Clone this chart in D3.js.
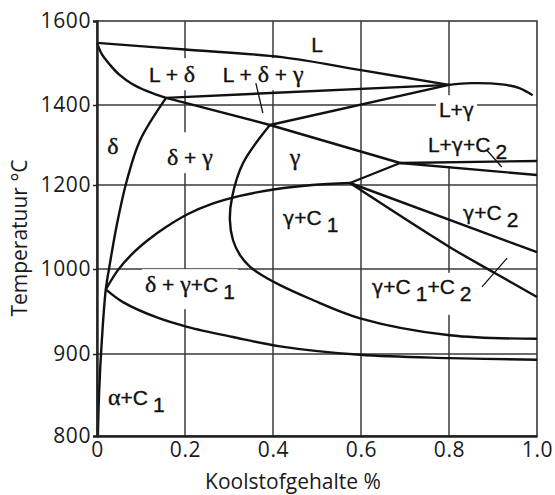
<!DOCTYPE html>
<html>
<head>
<meta charset="utf-8">
<script src="https://cdn.jsdelivr.net/npm/d3@7"></script>
<style>
body { margin: 0; background: #fff; }
</style>
</head>
<body>
<svg id="chart" width="555" height="495"></svg>
<script>
// axis ticks
const xTicks = [0, 0.2, 0.4, 0.6, 0.8, 1.0];
const yTicks = [800, 900, 1000, 1200, 1400, 1600];
const xGrid = [0.2, 0.4, 0.6, 0.8];
const yGrid = [900, 1000, 1200, 1400];

// phase boundaries, [carbon %, temperature °C]
const liquidus = [[0, 1548], [0.2, 1532], [0.42, 1514], [0.6, 1483], [0.8, 1448]];
const deltaSolidus = [[0, 1548], [0.011, 1521], [0.03, 1495], [0.052, 1471], [0.08, 1450], [0.114, 1433], [0.157, 1417]];
const peritectic = [[0.157, 1417], [0.8, 1448]];
const deltaGammaTop = [[0.157, 1417], [0.393, 1350]];
const deltaBoundary = [[0.157, 1417], [0.098, 1312], [0.068, 1212], [0.045, 1105], [0.03, 1017],
  [0.02, 976], [0.011, 916], [0.005, 856], [0.002, 800]];
const gammaC1Top = [[0.02, 976], [0.048, 999], [0.08, 1036], [0.116, 1069], [0.157, 1100], [0.207, 1131],
  [0.261, 1155], [0.325, 1174], [0.405, 1190], [0.489, 1200], [0.575, 1205]];
const lowerBoundary = [[0.02, 976], [0.059, 961], [0.136, 943], [0.205, 932], [0.309, 920],
  [0.416, 909], [0.598, 899], [0.802, 895], [1.0, 893]];
const gammaBoundary = [[0.393, 1350], [0.332, 1255], [0.307, 1171], [0.302, 1117], [0.309, 1069],
  [0.325, 1033], [0.348, 1005], [0.377, 992], [0.416, 981], [0.484, 965], [0.598, 942],
  [0.802, 922], [1.0, 918]];
const gammaLiquid = [[0.393, 1350], [0.8, 1448]];
const gammaL = [[0.393, 1350], [0.689, 1255]];
const qUpper = [[0.689, 1255], [1.0, 1260]];
const qLower = [[0.689, 1255], [1.0, 1225]];
const eToQ = [[0.575, 1205], [0.689, 1255]];
const eUpper = [[0.575, 1205], [1.0, 1040]];
const eLower = [[0.575, 1205], [0.802, 1052], [0.905, 995], [1.0, 967]];
const liquidusRight = [[0.8, 1448], [0.85, 1452], [0.92, 1449], [0.96, 1440], [0.99, 1423]];

// leader lines
const leaderLDG = [[0.361, 1452], [0.377, 1380]];
const leaderLGC = [[0.886, 1287], [0.92, 1245]];
const leaderGCC = [[0.875, 979], [0.932, 1026]];

// phase labels: text ("_" marks a subscript), carbon %, temperature
const labelText = ["L", "L + δ", "L + δ + γ", "δ", "δ + γ", "γ", "L+γ", "L+γ+C_2", "γ+C_1", "γ+C_2", "δ + γ+C_1", "γ+C_1+C_2", "α+C_1"];
const labelX = [0.5, 0.118, 0.286, 0.036, 0.159, 0.45, 0.777, 0.752, 0.423, 0.832, 0.109, 0.625, 0.025];
const labelT = [1543, 1471, 1471, 1295, 1267, 1267, 1387, 1300, 1121, 1133, 981, 979, 846];
const labelAnchor = ["middle", "start", "start", "middle", "start", "middle", "start", "start", "start", "start", "start", "start", "start"];
const serifGreek = [false, true, true, true, true, true, false, false, false, false, true, false, true];
const labelPad = [[2, 2], [3, 3], [3, 3], [2, 2], [12, 3], [2, 2], [3, 9], [9, 3], [2, 2], [2, 2], [2, 6], [2, 10], [2, 2]];

const svg = d3.select("#chart");

const x = d3.scaleLinear().domain([0, 1]).range([97, 537]);
// temperature axis is stretched below 1000 °C
const y = d3.scaleLinear()
    .domain([800, 900, 1000, 1200, 1400, 1600])
    .range([436, 354, 269, 185, 105, 21]);

const gGrid = svg.append("g");
const gBg = svg.append("g");
const gCurves = svg.append("g");
const gLabels = svg.append("g");

// grid
gGrid.selectAll(".vg")
    .data(xGrid)
    .join("line")
    .attr("x1", d => x(d)).attr("x2", d => x(d))
    .attr("y1", y(800)).attr("y2", y(1600))
    .attr("stroke", "#3a3a3a").attr("stroke-width", 1.5);

gGrid.selectAll(".hg")
    .data(yGrid)
    .join("line")
    .attr("y1", d => y(d)).attr("y2", d => y(d))
    .attr("x1", x(0)).attr("x2", x(1))
    .attr("stroke", "#3a3a3a").attr("stroke-width", 1.5);

// frame
gGrid.append("rect")
    .attr("x", x(0)).attr("y", y(1600))
    .attr("width", x(1) - x(0)).attr("height", y(800) - y(1600))
    .attr("fill", "none").attr("stroke", "#3a3a3a").attr("stroke-width", 1.6);

// axes
const yAxis = svg.append("g")
    .attr("transform", `translate(${x(0)},0)`)
    .call(d3.axisLeft(y).tickValues(yTicks).tickSize(4).tickFormat(d3.format("d")));

const xAxis = svg.append("g")
    .attr("transform", `translate(0,${y(800)})`)
    .call(d3.axisBottom(x).tickValues(xTicks).tickSize(0)
        .tickFormat(d => d === 0 ? "0" : d3.format(".1f")(d)));

[yAxis, xAxis].forEach(a => {
    a.select(".domain").attr("stroke", "#222").attr("stroke-width", 2.4);
    a.selectAll(".tick line").attr("stroke", "#222").attr("stroke-width", 1.5);
    a.selectAll(".tick text")
        .attr("fill", "#1a1a1a")
        .style("font-family", "'Open Sans', sans-serif")
        .style("font-size", "21px")
        .style("letter-spacing", "0.6px");
});
yAxis.selectAll(".tick text").attr("x", -6);
xAxis.selectAll(".tick text").attr("y", 6).attr("dy", "0.71em");

svg.append("text")
    .attr("x", 293).attr("y", 489)
    .attr("text-anchor", "middle")
    .attr("fill", "#1a1a1a")
    .style("font-family", "'Open Sans', sans-serif")
    .style("font-size", "21px")
    .text("Koolstofgehalte %");

svg.append("text")
    .attr("transform", "translate(27,238) rotate(-90)")
    .attr("text-anchor", "middle")
    .attr("fill", "#1a1a1a")
    .style("font-family", "'Open Sans', sans-serif")
    .style("font-size", "21px")
    .text("Temperatuur °C");

// phase boundaries
const smooth = d3.line().x(d => x(d[0])).y(d => y(d[1])).curve(d3.curveCatmullRom.alpha(0.5));
const straight = d3.line().x(d => x(d[0])).y(d => y(d[1]));

const curved = [liquidus, deltaSolidus, deltaBoundary, gammaC1Top, lowerBoundary, gammaBoundary, eLower, liquidusRight];
const lines = [peritectic, deltaGammaTop, gammaLiquid, gammaL, qUpper, qLower, eToQ, eUpper];
const leaders = [leaderLDG, leaderLGC, leaderGCC];

gCurves.selectAll(".c")
    .data(curved)
    .join("path")
    .attr("d", smooth)
    .attr("fill", "none").attr("stroke", "#111").attr("stroke-width", 2.4);

gCurves.selectAll(".l")
    .data(lines)
    .join("path")
    .attr("d", straight)
    .attr("fill", "none").attr("stroke", "#111").attr("stroke-width", 2.4);

gCurves.selectAll(".ld")
    .data(leaders)
    .join("path")
    .attr("d", straight)
    .attr("fill", "none").attr("stroke", "#111").attr("stroke-width", 1.3);

// phase labels
function addRun(txt, s, serif, dy) {
    // greek letters get their own face
    s.split(/([αγδ])/).filter(p => p.length).forEach((p, k) => {
        const ts = txt.append("tspan").text(p);
        if (k === 0 && dy) ts.attr("dy", dy);
        if (/[αγδ]/.test(p)) {
            if (serif) ts.style("font-family", "'Liberation Serif', serif").style("font-size", "24px");
            else ts.style("font-family", "'DejaVu Sans', sans-serif").style("font-size", "19px");
        }
    });
}

labelText.forEach((t, i) => {
    const txt = gLabels.append("text")
        .attr("x", x(labelX[i]))
        .attr("y", y(labelT[i]) + 7)
        .attr("text-anchor", labelAnchor[i])
        .attr("fill", "#111")
        .attr("stroke", "#111")
        .attr("stroke-width", 0.35)
        .style("font-family", "'Liberation Sans', Arial, sans-serif")
        .style("font-size", "21px");
    const parts = t.split("_");
    addRun(txt, parts[0], serifGreek[i], 0);
    parts.slice(1).forEach(p => {
        txt.append("tspan").attr("dx", 5).attr("dy", 7).text(p[0]);
        if (p.length > 1) addRun(txt, p.slice(1), serifGreek[i], -7);
    });
    const b = txt.node().getBBox();
    gBg.append("rect")
        .attr("x", b.x - 3).attr("y", b.y - labelPad[i][0])
        .attr("width", b.width + 6).attr("height", b.height + labelPad[i][0] + labelPad[i][1])
        .attr("fill", "#fff");
});
</script>
</body>
</html>
